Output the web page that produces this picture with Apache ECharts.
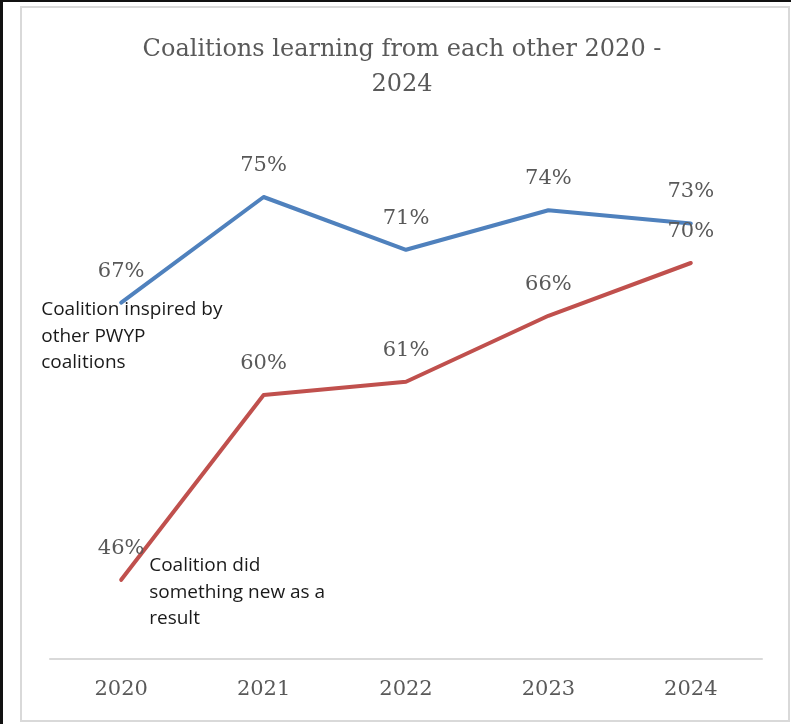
<!DOCTYPE html>
<html>
<head>
<meta charset="utf-8">
<script src="https://cdn.jsdelivr.net/npm/echarts@6/dist/echarts.min.js"></script>
<style>
  html, body { margin: 0; padding: 0; background: #fff; }
  #chart { width: 791px; height: 724px; }
</style>
</head>
<body>
<div id="chart"></div>
<script>
// Survey years
const years = ['2020', '2021', '2022', '2023', '2024'];

// Share of coalitions (%)
const inspiredValues = [67, 75, 71, 74, 73];
const newThingValues = [46, 60, 61, 66, 70];

// Series names, written next to the first point of each line
const inspiredName = 'Coalition inspired by\nother PWYP\ncoalitions';
const newThingName = 'Coalition did\nsomething new as a\nresult';

const titleText = 'Coalitions learning from each other 2020 -\n2024';

const serif = '"DejaVu Serif", serif';
const sans = '"Open Sans", "Liberation Sans", Arial, sans-serif';

const chart = echarts.init(document.getElementById('chart'), null, { renderer: 'canvas' });

function lineSeries(name, values, color, nameLabelPos) {
  return {
    name: name,
    type: 'line',
    data: values,
    symbol: 'circle',
    symbolSize: 0,
    showSymbol: true,
    lineStyle: { color: color, width: 4, cap: 'round', join: 'round' },
    itemStyle: { color: color },
    label: {
      show: true,
      position: 'top',
      distance: 21,
      formatter: '{c}%',
      fontFamily: serif,
      fontSize: 21,
      color: '#595959'
    },
    markPoint: {
      symbol: 'circle',
      symbolSize: 0,
      silent: true,
      data: [{ coord: [0, values[0]], value: values[0] }],
      label: {
        show: true,
        formatter: name,
        position: nameLabelPos,
        align: 'left',
        verticalAlign: 'top',
        fontFamily: sans,
        fontSize: 19,
        lineHeight: 26.5,
        color: '#1a1a1a'
      }
    },
    z: 3
  };
}

chart.setOption({
  animation: false,
  backgroundColor: '#ffffff',
  graphic: [
    // outer dark edge
    { type: 'rect', shape: { x: 0, y: 0, width: 3, height: 724 }, style: { fill: '#111' }, silent: true },
    { type: 'rect', shape: { x: 0, y: 0, width: 791, height: 2 }, style: { fill: '#111' }, silent: true },
    // chart area border
    { type: 'rect', shape: { x: 21, y: 7, width: 768, height: 714 },
      style: { fill: 'none', stroke: '#d9d9d9', lineWidth: 2 }, silent: true }
  ],
  title: {
    text: titleText,
    left: 397,
    top: 27,
    textAlign: 'center',
    textStyle: {
      fontFamily: serif,
      fontWeight: 'normal',
      fontSize: 24,
      lineHeight: 35,
      color: '#595959'
    }
  },
  grid: { left: 50, right: 29, top: 131, bottom: 65, containLabel: false },
  xAxis: {
    type: 'category',
    data: years,
    boundaryGap: true,
    axisLine: { show: true, lineStyle: { color: '#d9d9d9', width: 2 } },
    axisTick: { show: false },
    axisLabel: {
      margin: 20,
      fontFamily: serif,
      fontSize: 21,
      color: '#595959'
    },
    splitLine: { show: false }
  },
  yAxis: {
    type: 'value',
    min: 40,
    max: 80,
    interval: 10,
    show: false,
    splitLine: { show: false }
  },
  series: [
    lineSeries(inspiredName, inspiredValues, '#4f81bd', [-80, -6]),
    lineSeries(newThingName, newThingValues, '#c0504d', [28, -27])
  ]
});
</script>
</body>
</html>
